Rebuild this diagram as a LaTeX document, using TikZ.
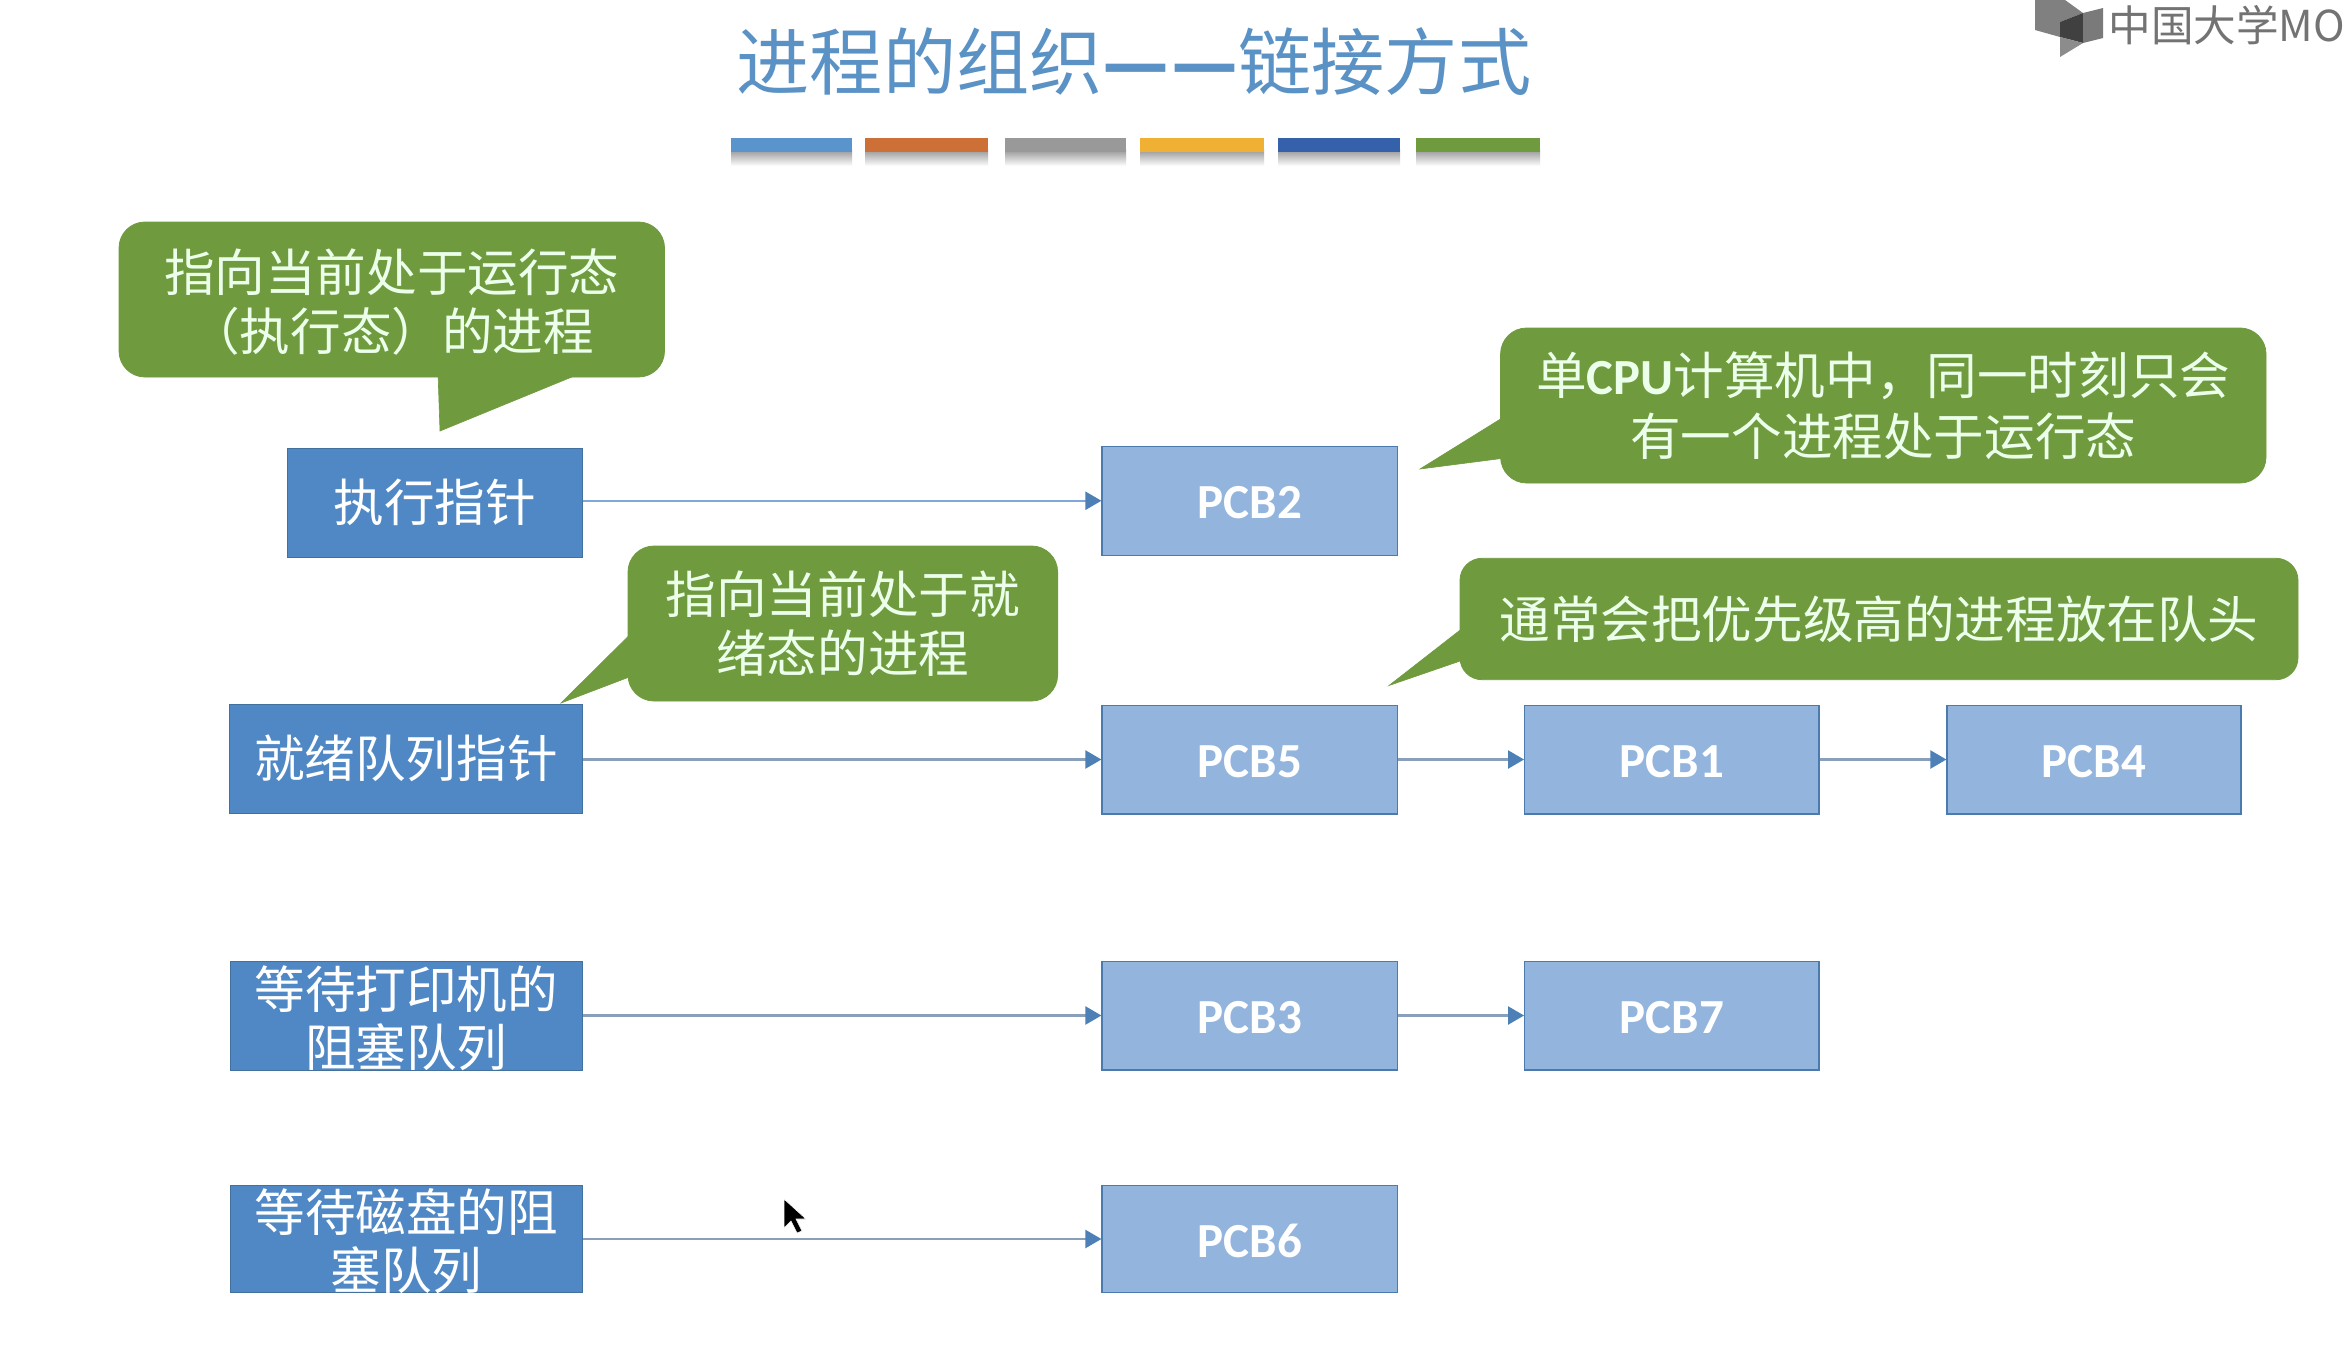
\documentclass[tikz,border=0pt]{standalone}
\usepackage{fontspec}
\usetikzlibrary{arrows.meta}
\newfontfamily\cjk{Noto Sans CJK SC}
\newfontfamily\latn{Carlito}
\definecolor{boxdark}{HTML}{4F88C5}
\definecolor{boxdarkline}{HTML}{41719C}
\definecolor{boxlight}{HTML}{93B4DC}
\definecolor{boxlightline}{HTML}{4A7BAE}
\definecolor{calloutgreen}{HTML}{6F9A3E}
\definecolor{titleblue}{HTML}{5A92C6}
\definecolor{arrowline}{HTML}{8AA0BA}
\definecolor{arrowlight}{HTML}{7FA8D8}
\definecolor{arrowtip}{HTML}{4C80B6}
\definecolor{barblue}{HTML}{5A94CC}
\definecolor{barorange}{HTML}{CC7038}
\definecolor{bargray}{HTML}{999999}
\definecolor{baryellow}{HTML}{F0B034}
\definecolor{barnavy}{HTML}{3461A9}
\tikzset{
  dark/.style={draw=boxdarkline,line width=0.5pt,fill=boxdark,text=white,inner sep=0pt,align=center,font=\cjk\fontsize{25.3}{29}\selectfont},
  pcb/.style={draw=boxlightline,line width=0.6pt,fill=boxlight,text=white,inner sep=0pt,minimum height=54.4pt,text height=18pt,text depth=0pt,font=\latn\bfseries\fontsize{24.5}{30}\selectfont},
  callout/.style={fill=calloutgreen,draw=calloutgreen,rounded corners=13pt,text=white!92!green,inner sep=0pt,align=center,font=\cjk\fontsize{25.3}{29.5}\selectfont},
  tail/.style={fill=calloutgreen,draw=calloutgreen,line width=0.3pt},
  link/.style={draw=arrowline,line width=1.1pt,-{Triangle[length=8pt,width=9pt,color=arrowtip]}},
  bar/.style={minimum height=7.2pt,minimum width=60.5pt,inner sep=0pt,draw=none},
  barshade/.style={top color=black!40,bottom color=white,draw=none}
}
\begin{document}
\begin{tikzpicture}[x=0.5pt,y=-0.5pt]
\useasboundingbox (0,0) rectangle (2346,1370);
\fill[white] (0,0) rectangle (2346,1370);
% title
\node[text=titleblue,inner sep=0pt,font=\cjk\fontsize{36.6}{40}\selectfont] (title) at (1134,62) {进程的组织{\bfseries —\kern1pt—}链接方式};
% bars
\foreach \xa/\xb in {731.5/852,865/988,1005.5/1126,1140/1264,1278/1400,1416/1540}
  \shade[barshade] (\xa,150) rectangle (\xb,166);
\node[bar,fill=barblue] (b1) at (791.75,145) {};
\node[bar,fill=barorange,minimum width=61.5pt] (b2) at (926.5,145) {};
\node[bar,fill=bargray] (b3) at (1065.75,145) {};
\node[bar,fill=baryellow,minimum width=62pt] (b4) at (1202,145) {};
\node[bar,fill=barnavy,minimum width=61pt] (b5) at (1339,145) {};
\node[bar,fill=calloutgreen,minimum width=62pt] (b6) at (1478,145) {};
% logo
\begin{scope}
\clip (2030,0) rectangle (2346,70);
\fill[black!50] (2035,0) -- (2065,0) -- (2083,13) -- (2060,22) -- (2060,37) -- (2035,30) -- cycle;
\fill[black!75] (2060,22) -- (2083,13) -- (2083,43) -- (2060,37) -- cycle;
\fill[black!52] (2083,13) -- (2103,8) -- (2103,38) -- (2083,43) -- cycle;
\fill[black!45] (2060,37) -- (2083,43) -- (2060,57) -- cycle;
\node[anchor=west,inner sep=0pt,text=black!55,font=\cjk\fontsize{21.3}{24}\selectfont] (logo) at (2108,25) {中国大学MO};
\end{scope}
% left boxes
\node[dark,minimum width=147.25pt,minimum height=54.75pt] (exec) at (434.75,502.75) {执行指针};
\node[dark,minimum width=176.2pt,minimum height=54.5pt] (ready) at (405.8,758.5) {就绪队列指针};
\node[dark,minimum width=176.3pt,minimum height=54.5pt,inner ysep=-6pt] (print) at (406.3,1015.5) {\rule{0pt}{24pt}等待打印机的\\阻塞队列};
\node[dark,minimum width=176.3pt,minimum height=53.5pt,inner ysep=-6pt] (disk) at (406.3,1238.5) {\rule{0pt}{24pt}等待磁盘的阻\\塞队列};
% PCBs
\node[pcb,minimum width=147.8pt] (p2) at (1249.8,500.75) {PCB2};
\node[pcb,minimum width=147.8pt] (p5) at (1249.8,759.5) {PCB5};
\node[pcb,minimum width=147.2pt] (p1) at (1671.85,759.5) {PCB1};
\node[pcb,minimum width=147pt] (p4) at (2094,759.5) {PCB4};
\node[pcb,minimum width=147.8pt] (p3) at (1249.8,1015.5) {PCB3};
\node[pcb,minimum width=147.2pt] (p7) at (1671.85,1015.5) {PCB7};
\node[pcb,minimum width=147.8pt,minimum height=53.5pt] (p6) at (1249.8,1239) {PCB6};
% links
\draw[link,draw=arrowlight] (exec.east |- p2) -- (p2.west);
\draw[link] (ready.east |- p5) -- (p5.west);
\draw[link] (p5.east) -- (p1.west);
\draw[link] (p1.east) -- (p4.west);
\draw[link] (print.east |- p3) -- (p3.west);
\draw[link] (p3.east) -- (p7.west);
\draw[link] (disk.east |- p6) -- (p6.west);
% callouts
\coordinate (t1) at (440,431);
\coordinate (t2) at (561,703);
\coordinate (t3) at (1420,469);
\coordinate (t4) at (1389,685.5);
\draw[tail] (438,372) -- (t1) -- (584,372) -- cycle;
\draw[tail] (634,630.6) -- (t2) -- (634,675.2) -- cycle;
\draw[tail] (1506,415.6) -- (t3) -- (1506,457.9) -- cycle;
\draw[tail] (1466,625.5) -- (t4) -- (1466,659) -- cycle;
\node[callout,minimum width=272.75pt,minimum height=77.5pt] (c1) at (391.75,299.5) {\rule{0pt}{24pt}指向当前处于运行态\\（执行态）的进程};
\node[callout,minimum width=214.8pt,minimum height=77.5pt] (c2) at (842.8,623.5) {指向当前处于就\\绪态的进程};
\node[callout,minimum width=382.7pt,minimum height=77.5pt,font=\cjk\fontsize{25.3}{30.5}\selectfont] (c3) at (1883.3,405.5) {单{\latn\bfseries CPU}计算机中，同一时刻只会\\有一个进程处于运行态};
\node[callout,minimum width=419pt,minimum height=60.7pt,rounded corners=11pt] (c4) at (1879,619) {通常会把优先级高的进程放在队头};
% mouse pointer
\fill[black,draw=white,line width=0.3pt] (784,1199) -- (784,1228) -- (791,1221) -- (797,1233) -- (802,1231) -- (796,1219) -- (806,1219) -- cycle;
\end{tikzpicture}
\end{document}
